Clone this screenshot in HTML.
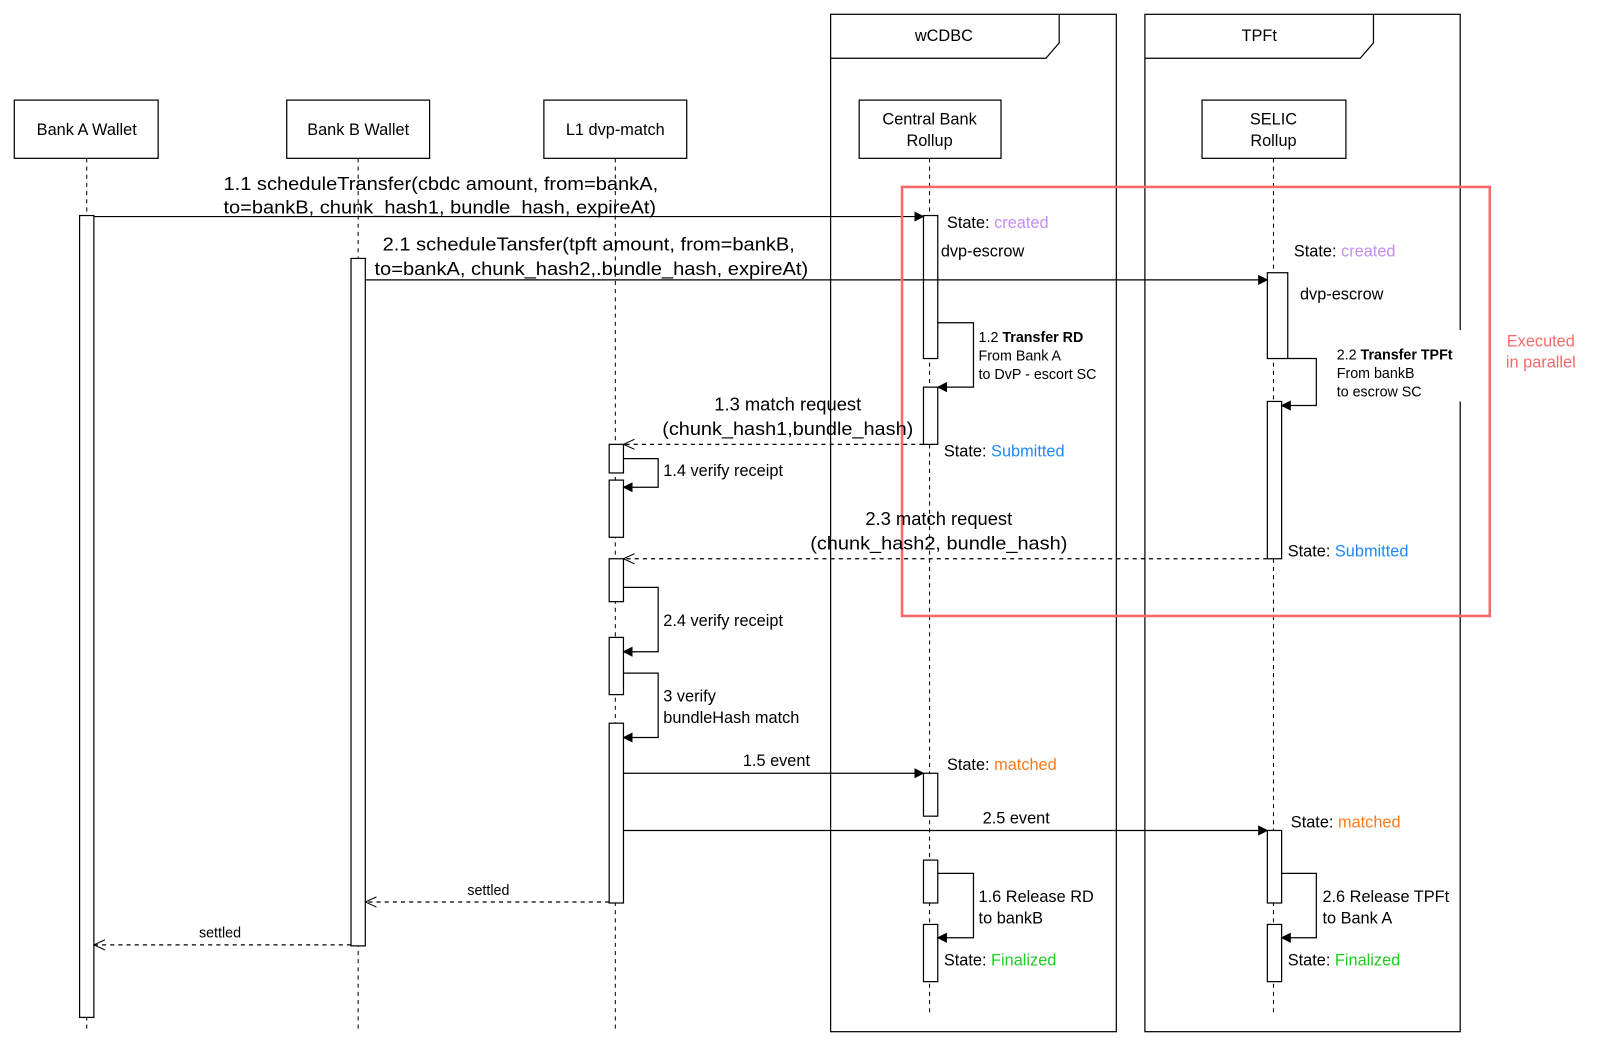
<!DOCTYPE html>
<html><head><meta charset="utf-8"><style>
html,body{margin:0;padding:0;background:#fff;}
svg{display:block;font-family:"Liberation Sans",Arial,sans-serif;}
</style></head><body>
<svg width="1600" height="1046" viewBox="0 0 1568 1024" preserveAspectRatio="none" xmlns="http://www.w3.org/2000/svg">
<defs>
<marker id="af" markerWidth="10" markerHeight="10" refX="9" refY="5" orient="auto" markerUnits="userSpaceOnUse"><path d="M0,0 L10,5 L0,10 Z" fill="#000"/></marker>
<marker id="ao" markerWidth="12" markerHeight="12" refX="11" refY="6" orient="auto" markerUnits="userSpaceOnUse"><path d="M0,1 L11,6 L0,11" fill="none" stroke="#000" stroke-width="1"/></marker>
</defs>
<g fill="none" stroke="#000" stroke-width="1.2">
<rect x="814" y="14" width="280" height="996"/>
<path d="M814,57 H1025 L1038,42 V14"/>
<rect x="1122" y="14" width="309" height="996"/>
<path d="M1122,57 H1333 L1346,42 V14"/>
</g>
<g font-size="16" text-anchor="middle" fill="#000">
<text x="925" y="40">wCDBC</text>
<text x="1234" y="40">TPFt</text>
</g>
<g stroke="#000" stroke-width="1" stroke-dasharray="4,4">
<line x1="85" y1="155" x2="85" y2="1010"/>
<line x1="351" y1="155" x2="351" y2="1010"/>
<line x1="603" y1="155" x2="603" y2="1010"/>
<line x1="911" y1="155" x2="911" y2="992"/>
<line x1="1248" y1="155" x2="1248" y2="992"/>
</g>
<g fill="#fff" stroke="#000" stroke-width="1.2">
<rect x="14" y="98" width="141" height="57"/>
<rect x="281" y="98" width="140" height="57"/>
<rect x="533" y="98" width="140" height="57"/>
<rect x="842" y="98" width="139" height="57"/>
<rect x="1178" y="98" width="141" height="57"/>
</g>
<g font-size="16" text-anchor="middle" fill="#000">
<text x="85" y="132">Bank A Wallet</text>
<text x="351" y="132">Bank B Wallet</text>
<text x="603" y="132">L1 dvp-match</text>
<text x="911" y="122">Central Bank</text>
<text x="911" y="143">Rollup</text>
<text x="1248" y="122">SELIC</text>
<text x="1248" y="143">Rollup</text>
</g>
<rect x="1428" y="323" width="6" height="70" fill="#fff"/>
<g fill="#fff" stroke="#000" stroke-width="1.2">
<rect x="78" y="211" width="14" height="785"/>
<rect x="344" y="253" width="14" height="673"/>
<rect x="905" y="211" width="14" height="140"/>
<rect x="905" y="379" width="14" height="56"/>
<rect x="1242" y="267" width="20" height="84"/>
<rect x="1242" y="393" width="14" height="154"/>
<rect x="597" y="435" width="14" height="28"/>
<rect x="597" y="470" width="14" height="56"/>
<rect x="597" y="547" width="14" height="42"/>
<rect x="597" y="624" width="14" height="56"/>
<rect x="597" y="708" width="14" height="176"/>
<rect x="905" y="757" width="14" height="42"/>
<rect x="1242" y="813" width="14" height="71"/>
<rect x="905" y="842" width="14" height="42"/>
<rect x="905" y="905" width="14" height="56"/>
<rect x="1242" y="905" width="14" height="56"/>
</g>
<g stroke="#000" stroke-width="1.2" fill="none">
<line x1="92" y1="212" x2="905" y2="212" marker-end="url(#af)"/>
<line x1="358" y1="274" x2="1242" y2="274" marker-end="url(#af)"/>
<path d="M919,316 H954 V379 H919" marker-end="url(#af)"/>
<path d="M1262,351 H1290 V397 H1256" marker-end="url(#af)"/>
<line x1="905" y1="435" x2="611" y2="435" stroke-dasharray="4,4" marker-end="url(#ao)"/>
<path d="M611,449 H645 V477 H611" marker-end="url(#af)"/>
<line x1="1242" y1="547" x2="611" y2="547" stroke-dasharray="4,4" marker-end="url(#ao)"/>
<path d="M611,575 H645 V638 H611" marker-end="url(#af)"/>
<path d="M611,659 H645 V722 H611" marker-end="url(#af)"/>
<line x1="611" y1="757" x2="905" y2="757" marker-end="url(#af)"/>
<line x1="611" y1="813" x2="1242" y2="813" marker-end="url(#af)"/>
<path d="M919,855 H954 V918 H919" marker-end="url(#af)"/>
<path d="M1256,855 H1290 V918 H1256" marker-end="url(#af)"/>
<line x1="597" y1="883" x2="358" y2="883" stroke-dasharray="4,4" marker-end="url(#ao)"/>
<line x1="344" y1="925" x2="92" y2="925" stroke-dasharray="4,4" marker-end="url(#ao)"/>
</g>
<rect x="884" y="183" width="576" height="420" fill="none" stroke="#f86a6a" stroke-width="2.5"/>
<g font-size="16" fill="#f86a6a" text-anchor="middle">
<text x="1510" y="339">Executed</text>
<text x="1510" y="360">in parallel</text>
</g>
<g font-size="18" fill="#000">
<text x="219" y="186" textLength="426" lengthAdjust="spacingAndGlyphs">1.1 scheduleTransfer(cbdc amount, from=bankA,</text>
<text x="219" y="209" textLength="424" lengthAdjust="spacingAndGlyphs">to=bankB, chunk_hash1, bundle_hash, expireAt)</text>
<text x="375" y="245" textLength="404" lengthAdjust="spacingAndGlyphs">2.1 scheduleTansfer(tpft amount, from=bankB,</text>
<text x="367" y="269" textLength="425" lengthAdjust="spacingAndGlyphs">to=bankA, chunk_hash2,.bundle_hash, expireAt)</text>
<text x="772" y="402" text-anchor="middle">1.3 match request</text>
<text x="772" y="426" text-anchor="middle" textLength="246" lengthAdjust="spacingAndGlyphs">(chunk_hash1,bundle_hash)</text>
<text x="920" y="514" text-anchor="middle">2.3 match request</text>
<text x="920" y="538" text-anchor="middle" textLength="252" lengthAdjust="spacingAndGlyphs">(chunk_hash2, bundle_hash)</text>
</g>
<g font-size="16" fill="#000">
<text x="928" y="223">State: <tspan fill="#c48ef5">created</tspan></text>
<text x="922" y="251">dvp-escrow</text>
<text x="1268" y="251">State: <tspan fill="#c48ef5">created</tspan></text>
<text x="1274" y="293">dvp-escrow</text>
<text x="925" y="447">State: <tspan fill="#1e88ff">Submitted</tspan></text>
<text x="1262" y="545">State: <tspan fill="#1e88ff">Submitted</tspan></text>
<text x="650" y="466">1.4 verify receipt</text>
<text x="650" y="613">2.4 verify receipt</text>
<text x="650" y="687">3 verify</text>
<text x="650" y="708">bundleHash match</text>
<text x="728" y="750">1.5 event</text>
<text x="963" y="806">2.5 event</text>
<text x="928" y="754">State: <tspan fill="#ff7a1a">matched</tspan></text>
<text x="1265" y="810">State: <tspan fill="#ff7a1a">matched</tspan></text>
<text x="959" y="883">1.6 Release RD</text>
<text x="959" y="904">to bankB</text>
<text x="1296" y="883">2.6 Release TPFt</text>
<text x="1296" y="904">to Bank A</text>
<text x="925" y="945">State: <tspan fill="#22cc22">Finalized</tspan></text>
<text x="1262" y="945">State: <tspan fill="#22cc22">Finalized</tspan></text>
</g>
<g font-size="14" fill="#000">
<text x="959" y="335">1.2 <tspan font-weight="bold">Transfer RD</tspan></text>
<text x="959" y="353">From Bank A</text>
<text x="959" y="371">to DvP - escort SC</text>
<text x="1310" y="352">2.2 <tspan font-weight="bold">Transfer TPFt</tspan></text>
<text x="1310" y="370">From bankB</text>
<text x="1310" y="388">to escrow SC</text>
<text x="458" y="876">settled</text>
<text x="195" y="918">settled</text>
</g>
</svg>
</body></html>
